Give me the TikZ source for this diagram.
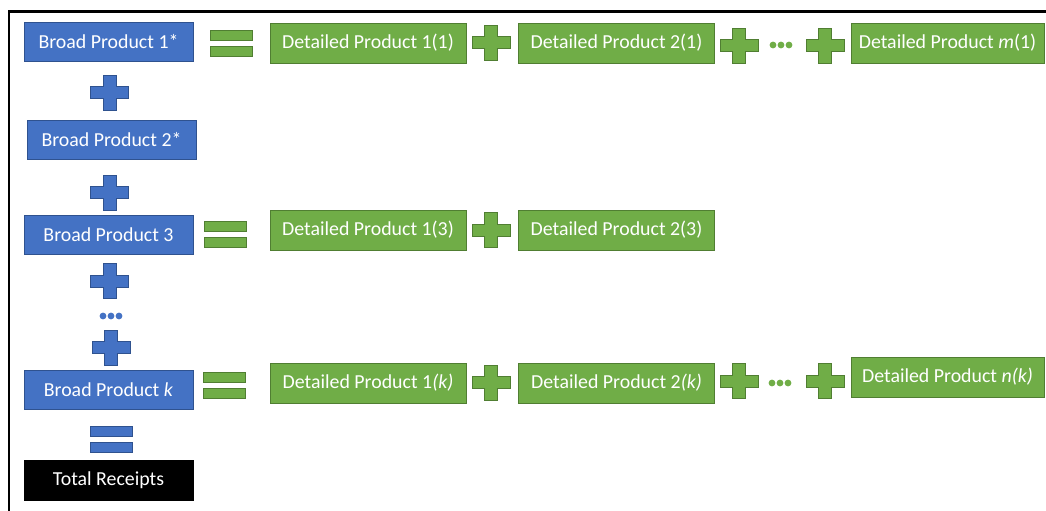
\documentclass[tikz,border=0pt]{standalone}
\usepackage{fontspec}
\setmainfont{Carlito}
\definecolor{offblue}{HTML}{4472C4}
\definecolor{offblueline}{HTML}{2F528F}
\definecolor{offgreen}{HTML}{70AD47}
\definecolor{offgreenline}{HTML}{507E32}
\tikzset{
  broad/.style={draw=offblueline, fill=offblue, text=white, font=\fontsize{11.3}{13}\selectfont, minimum width=3.38cm, minimum height=0.78cm, inner sep=0pt},
  detail/.style={draw=offgreenline, fill=offgreen, text=white, font=\fontsize{11.3}{13}\selectfont, minimum width=3.92cm, minimum height=0.8cm, inner sep=0pt},
  total/.style={draw=black, fill=black, text=white, font=\fontsize{11.3}{13}\selectfont, minimum width=3.38cm, minimum height=0.8cm, inner sep=0pt},
  pics/plussign/.style={code={
    \path[draw=#1line, fill=#1, line width=0.4pt]
      (-6.5,-17.5) -- (6.5,-17.5) -- (6.5,-6) -- (19,-6) -- (19,6) -- (6.5,6)
      -- (6.5,17.5) -- (-6.5,17.5) -- (-6.5,6) -- (-19,6) -- (-19,-6) -- (-6.5,-6) -- cycle;}},
  pics/eqsign/.style={code={
    \path[draw=#1line, fill=#1, line width=0.4pt] (-21,-13) rectangle (21,-3);
    \path[draw=#1line, fill=#1, line width=0.4pt] (-21,3) rectangle (21,13);}},
  pics/dotsign/.style={code={
    \foreach \dx in {-8,0,8} \fill[#1] (\dx,0) circle (3.4);}}
}
\begin{document}
\begin{tikzpicture}[x=0.02cm, y=-0.02cm]
    \useasboundingbox (0,0) rectangle (1046,511);
    % Frame
    \draw[line width=0.06cm] (9,511) -- (9,11) -- (1046,11);

    % Broad products
    \node[broad] (b1) at (108.5,42) {Broad Product 1*};
    \node[broad] (b2) at (111.5,140) {Broad Product 2*};
    \node[broad] (b3) at (108.5,235) {Broad Product 3};
    \node[broad] (bk) at (108.5,390) {Broad Product \textit{k}};
    \node[total] (tot) at (108.5,480) {Total Receipts};

    % Detailed products
    \node[detail] (d11) at (368,43) {Detailed Product 1(1)};
    \node[detail] (d21) at (616.5,43) {Detailed Product 2(1)};
    \node[detail, minimum width=3.86cm] (dm1) at (947.5,43) {Detailed Product \textit{m}(1)};
    \node[detail] (d13) at (368,230) {Detailed Product 1(3)};
    \node[detail] (d23) at (616.5,230) {Detailed Product 2(3)};
    \node[detail] (d1k) at (368,383) {Detailed Product 1\textit{(k)}};
    \node[detail] (d2k) at (616.5,383) {Detailed Product 2\textit{(k)}};
    \node[detail, minimum width=3.86cm] (dnk) at (947.5,377) {Detailed Product \textit{n(k)}};

    % Signs down the left column
    \pic at (109.5,92.5) {plussign=offblue};
    \pic at (109.5,192.5) {plussign=offblue};
    \pic at (109.5,281) {plussign=offblue};
    \pic at (111,316) {dotsign=offblue};
    \pic at (111,347.5) {plussign=offblue};
    \pic at (111,439) {eqsign=offblue};

    % Signs along the rows
    \pic at (231,43) {eqsign=offgreen};
    \pic at (491,42.5) {plussign=offgreen};
    \pic at (739,45.5) {plussign=offgreen};
    \pic at (781,45) {dotsign=offgreen};
    \pic at (825,45.5) {plussign=offgreen};

    \pic at (225,234) {eqsign=offgreen};
    \pic at (491,230) {plussign=offgreen};

    \pic at (224,385.5) {eqsign=offgreen};
    \pic at (491,382.5) {plussign=offgreen};
    \pic at (739,381) {plussign=offgreen};
    \pic at (780,383) {dotsign=offgreen};
    \pic at (825,381) {plussign=offgreen};
\end{tikzpicture}
\end{document}
